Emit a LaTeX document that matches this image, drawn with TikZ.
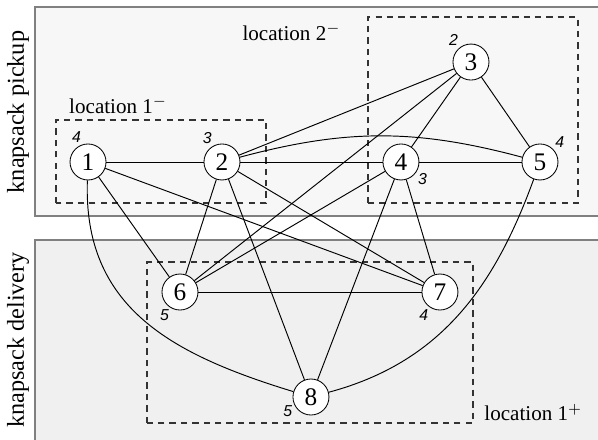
\documentclass[tikz,border=0pt]{standalone}
\usepackage{fontspec}
\setmainfont{Liberation Serif}
\newfontfamily\wtfont{Liberation Sans}
\usetikzlibrary{positioning}

\begin{document}
\begin{tikzpicture}[x=1cm,y=1cm,
  every node/.append style={font=\fontsize{10}{12}\selectfont},
  city/.style={draw,circle,fill=white,minimum size=0.6cm,inner sep=0pt,font=\fontsize{12}{14}\selectfont},
  wt/.style={font=\wtfont\fontsize{7.5}{8}\selectfont\itshape,inner sep=0.5pt},
  zone/.style={draw=black!80,thick,dash pattern=on 3pt off 2.4pt},
  panel/.style={draw=black!50,thick},
  every label/.append style={wt},
  label distance=0.2pt]
  \useasboundingbox (0,0) rectangle (9.967,7.317);
  \clip (0,0) rectangle (9.967,7.317);

  % knapsack panels
  \fill[fill=black!3] (0.583,3.717) rectangle (10.3,7.2);
  \fill[fill=blue!3!black!6] (0.583,-0.3) rectangle (10.3,3.317);
  \draw[panel] (10.3,7.2) -- (0.583,7.2) -- (0.583,3.717) -- (10.3,3.717);
  \draw[panel] (10.3,3.317) -- (0.583,3.317) -- (0.583,-0.3);
  \node[rotate=90,font=\fontsize{11.5}{13}\selectfont] (pick) at (0.3,5.45) {knapsack pickup};
  \node[rotate=90,font=\fontsize{11.5}{13}\selectfont] (deli) at (0.3,1.65) {knapsack delivery};

  % locations
  \draw[zone] (0.933,3.933) rectangle (4.433,5.317);
  \draw[zone] (6.133,3.933) rectangle (9.633,7.033);
  \draw[zone] (2.45,0.267) rectangle (7.883,2.95);
  \node[anchor=west] (l1m) at (1.03,5.57) {location 1$^-$};
  \node[anchor=east] (l2m) at (5.8,6.78) {location 2$^-$};
  \node[anchor=west] (l1p) at (7.95,0.44) {location 1$^+$};

  % customers
  \node[city,label=107:4] (n1) at (1.467,4.617) {1};
  \node[city,label=118:3] (n2) at (3.7,4.617) {2};
  \node[city,label=128:2] (n3) at (7.85,6.283) {3};
  \node[city,label=-33:3] (n4) at (6.683,4.617) {4};
  \node[city,label=42:4] (n5) at (9.0,4.617) {5};
  \node[city,label=-121:5] (n6) at (3.0,2.45) {6};
  \node[city,label=-123:4] (n7) at (7.333,2.45) {7};
  \node[city,label=-157:5] (n8) at (5.183,0.7) {8};

  % edges
  \begin{scope}[line width=0.45pt]
    \draw (n1) -- (n2);
    \draw (n1) -- (n6);
    \draw (n1) -- (n7);
    \draw (n2) -- (n3);
    \draw (n2) -- (n4);
    \draw (n2) -- (n6);
    \draw (n2) -- (n7);
    \draw (n2) -- (n8);
    \draw (n3) -- (n4);
    \draw (n3) -- (n5);
    \draw (n3) -- (n6);
    \draw (n4) -- (n5);
    \draw (n4) -- (n6);
    \draw (n4) -- (n7);
    \draw (n4) -- (n8);
    \draw (n6) -- (n7);
    \draw (n2) to[bend left=15] (n5);
    \draw (n1) to[out=-92,in=163,looseness=1.1] (n8);
    \draw (n5) to[out=-110,in=15] (n8);
  \end{scope}
\end{tikzpicture}
\end{document}
